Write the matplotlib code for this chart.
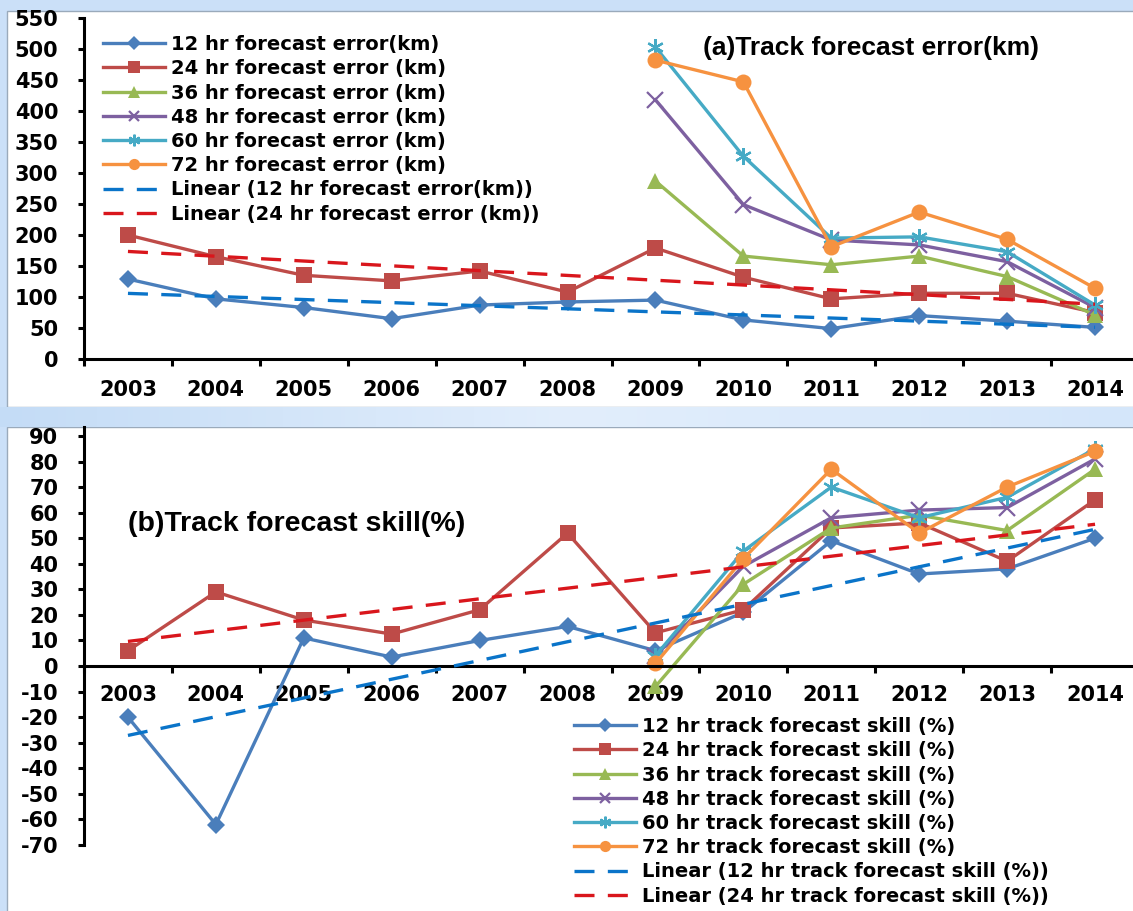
import numpy as np
import matplotlib
matplotlib.use('Agg')
import matplotlib.pyplot as plt
from matplotlib.patches import Rectangle

nan = np.nan
years = ['2003', '2004', '2005', '2006', '2007', '2008',
         '2009', '2010', '2011', '2012', '2013', '2014']

# (a) track forecast error, km
err_12 = [129, 97, 83, 65, 87, 92, 95, 63, 49, 70, 61, 51]
err_24 = [200, 165, 135, 126, 142, 108, 179, 132, 97, 106, 106, 75]
err_36 = [nan] * 6 + [287, 166, 152, 166, 133, 71]
err_48 = [nan] * 6 + [418, 249, 192, 184, 157, 83]
err_60 = [nan] * 6 + [503, 327, 195, 197, 173, 87]
err_72 = [nan] * 6 + [482, 447, 181, 237, 193, 114]

# (b) track forecast skill, %
skill_12 = [-20, -62, 11, 3.5, 10, 15.5, 6, 21, 49, 36, 38, 50]
skill_24 = [6, 29, 18, 12.5, 22, 52, 13, 22, 54, 56, 41, 65]
skill_36 = [nan] * 6 + [-8, 32, 54, 59, 53, 77]
skill_48 = [nan] * 6 + [4, 39, 58, 61, 62, 81]
skill_60 = [nan] * 6 + [4, 45, 70, 58, 66, 85]
skill_72 = [nan] * 6 + [1, 42, 77, 52, 70, 84]

colors = ['#4a7ebb', '#be4b48', '#98b954', '#7d60a0', '#46aac5', '#f69240']
markers = ['D', 's', '^', 'x', (6, 2, 0), 'o']
msizes = [9.5, 11.5, 12, 11, 12, 11.5]
trend_colors = ['#0a74c9', '#d9161c']

plt.rcParams['font.family'] = ['DejaVu Sans']
plt.rcParams['font.weight'] = 'bold'
plt.rcParams['axes.unicode_minus'] = False

W, H = 1133, 911
fig = plt.figure(figsize=(W / 100, H / 100), dpi=100, facecolor='#cbe0f8')

# white panels and the blue band between them
fig.patches.append(Rectangle((7 / W, 1 - 407 / H), 1.0, 396 / H, transform=fig.transFigure,
                             facecolor='white', edgecolor='#9aaabb', lw=1, zorder=-5))
fig.patches.append(Rectangle((7 / W, -0.01), 1.0, (911 - 427) / H + 0.01, transform=fig.transFigure,
                             facecolor='white', edgecolor='#9aaabb', lw=1, zorder=-5))
band = fig.add_axes([0, 1 - 427 / H, 1, 20 / H], zorder=-1)
grad = np.linspace(0, 1, 256)
band.imshow(np.vstack([grad, grad]), aspect='auto', cmap=matplotlib.colors.LinearSegmentedColormap.from_list(
    'band', ['#c4dcf6', '#e2eefc', '#d4e6fa']))
band.axis('off')

x = np.arange(len(years))


def style_axes(ax, ymin, ymax, yticks, pad):
    ax.set_xlim(-0.5, len(years) - 0.5)
    ax.set_ylim(ymin, ymax)
    ax.set_facecolor('none')
    for s in ['top', 'right']:
        ax.spines[s].set_visible(False)
    for s in ['left', 'bottom']:
        ax.spines[s].set_linewidth(2.2)
        ax.spines[s].set_color('black')
    ax.set_yticks(yticks)
    ax.set_xticks(x)
    ax.set_xticklabels(years)
    ax.set_xticks(np.arange(-0.5, len(years)), minor=True)
    ax.tick_params(axis='x', which='major', length=0, pad=pad, labelsize=15)
    ax.tick_params(axis='x', which='minor', length=5, width=2.2, direction='out')
    ax.tick_params(axis='y', length=4.5, width=2.2, direction='out', pad=14, labelsize=15)


def draw_series(ax, series, labels, trend_labels):
    for vals, c, m, ms, lab in zip(series, colors, markers, msizes, labels):
        mew = 1.6 if m in ('x', (6, 2, 0)) else 0
        ax.plot(x, vals, color=c, lw=2.4, marker=m, markersize=ms,
                markeredgewidth=mew, markeredgecolor=c, label=lab, zorder=2)
    for vals, c, lab in zip(series[:2], trend_colors, trend_labels):
        k, b = np.polyfit(x, vals, 1)
        ax.plot(x, k * x + b, color=c, lw=2.4, linestyle=(0, (6, 4)), label=lab, zorder=3)


legend_kw = dict(frameon=False, fontsize=14, borderpad=0, borderaxespad=0, handlelength=3.2,
                 handletextpad=0.3, labelspacing=0.27, markerscale=0.7)

# ---- panel (a)
ax1 = fig.add_axes([84 / W, 1 - 359 / H, 1055 / W, 341 / H], zorder=2)
style_axes(ax1, 0, 550, np.arange(0, 551, 50), 15)
labels_a = ['12 hr forecast error(km)', '24 hr forecast error (km)', '36 hr forecast error (km)',
            '48 hr forecast error (km)', '60 hr forecast error (km)', '72 hr forecast error (km)']
draw_series(ax1, [err_12, err_24, err_36, err_48, err_60, err_72], labels_a,
            ['Linear (12 hr forecast error(km))', 'Linear (24 hr forecast error (km))'])
ax1.legend(loc='upper left', bbox_to_anchor=(103 / W, 1 - 35 / H), bbox_transform=fig.transFigure,
           **legend_kw)
fig.text(703 / W, 1 - 48 / H, '(a)Track forecast error(km)', family='Liberation Sans',
         fontsize=19, weight='bold', va='center', ha='left')

# ---- panel (b)
ax2 = fig.add_axes([84 / W, 1 - 845 / H, 1055 / W, 418 / H], zorder=2)
style_axes(ax2, -70, 93.5, np.arange(-70, 91, 10), 14)
ax2.spines['bottom'].set_position(('data', 0))
labels_b = ['12 hr track forecast skill (%)', '24 hr track forecast skill (%)',
            '36 hr track forecast skill (%)', '48 hr track forecast skill (%)',
            '60 hr track forecast skill (%)', '72 hr track forecast skill (%)']
draw_series(ax2, [skill_12, skill_24, skill_36, skill_48, skill_60, skill_72], labels_b,
            ['Linear (12 hr track forecast skill (%))', 'Linear (24 hr track forecast skill (%))'])
ax2.legend(loc='upper left', bbox_to_anchor=(574 / W, 1 - 717 / H), bbox_transform=fig.transFigure,
           **legend_kw)
fig.text(128 / W, 1 - 524 / H, '(b)Track forecast skill(%)', family='Liberation Sans',
         fontsize=20.5, weight='bold', va='center', ha='left')

fig.savefig('out.png', dpi=100, facecolor=fig.get_facecolor())
